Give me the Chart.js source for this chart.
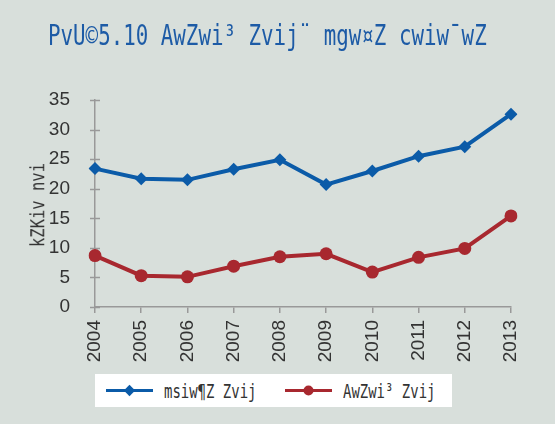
<!DOCTYPE html>
<html>
<head>
<meta charset="utf-8">
<script src="https://cdn.jsdelivr.net/npm/chart.js@4"></script>
<style>
  html, body { margin: 0; padding: 0; background: #d8dfdb; }
  #wrap { position: relative; width: 555px; height: 424px; background: #d8dfdb; overflow: hidden; }
  #chart { position: absolute; left: 0; top: 0; }
  /* the original uses a condensed fixed-width face: squeeze a mono font */
  .cond { font-family: 'DejaVu Sans Mono', 'Liberation Mono', monospace; white-space: nowrap; }
  #title { position: absolute; left: 48px; top: 22px; font-size: 27.5px; line-height: 27.5px;
           color: #1d5ba6; transform: scaleX(0.757); transform-origin: 0 0; }
  #ytitle { position: absolute; left: 37.5px; top: 205px; font-size: 19.5px; line-height: 19.5px;
            color: #333; transform: translate(-50%, -50%) rotate(-90deg) scaleX(0.795); }
  #legend { position: absolute; left: 95px; top: 374px; width: 357px; height: 33px; background: #fff; }
  #legend svg { position: absolute; top: 0; }
  #legend span { position: absolute; top: 7.5px; font-size: 19.5px; line-height: 19.5px;
                 color: #333; transform: scaleX(0.716); transform-origin: 0 0; }
</style>
</head>
<body>
<div id="wrap">
  <canvas id="chart" width="555" height="424"></canvas>
  <div id="title" class="cond">PvU©5.10 AwZwi³ Zvij¨ mgw¤Z cwiw¯wZ</div>
  <div id="ytitle" class="cond">kZKiv nvi</div>
  <div id="legend" class="cond"></div>
</div>
<script>
// বছর
const years = ['2004', '2005', '2006', '2007', '2008', '2009', '2010', '2011', '2012', '2013'];
// msiw¶Z Zvij
const reservedLiquidity = [23.4, 21.7, 21.5, 23.3, 24.9, 20.7, 23.0, 25.5, 27.1, 32.6];
// AwZwi³ Zvij
const excessLiquidity = [8.7, 5.3, 5.1, 6.9, 8.5, 9.0, 5.9, 8.4, 9.9, 15.4];
const seriesNames = ['msiw¶Z Zvij', 'AwZwi³ Zvij'];
const yTicks = [0, 5, 10, 15, 20, 25, 30, 35];

const BLUE = '#0b5ba8';
const RED = '#a8282f';
const AXIS = '#999999';

// y ticks cross the axis line (both sides)
const crossTicks = {
    id: 'crossTicks',
    beforeDatasetsDraw(chart) {
        const ctx = chart.ctx;
        const y = chart.scales.y;
        const x0 = chart.chartArea.left;
        ctx.save();
        ctx.strokeStyle = AXIS;
        ctx.lineWidth = 1.5;
        yTicks.forEach(v => {
            const py = Math.round(y.getPixelForValue(v)) + 0.5;
            ctx.beginPath();
            ctx.moveTo(x0 - 5, py);
            ctx.lineTo(x0 + 5, py);
            ctx.stroke();
        });
        ctx.restore();
    }
};

const chart = new Chart(document.getElementById('chart'), {
    type: 'line',
    data: {
        labels: years,
        datasets: [{
            label: seriesNames[0],
            data: reservedLiquidity,
            borderColor: BLUE,
            backgroundColor: BLUE,
            borderWidth: 4,
            pointStyle: 'rectRot',
            pointRadius: 6.5,
            pointBorderWidth: 0,
            tension: 0
        }, {
            label: seriesNames[1],
            data: excessLiquidity,
            borderColor: RED,
            backgroundColor: RED,
            borderWidth: 4,
            pointStyle: 'circle',
            pointRadius: 6.5,
            pointBorderWidth: 0,
            tension: 0
        }]
    },
    options: {
        responsive: false,
        animation: false,
        layout: { padding: { top: 100, right: 44, bottom: 57, left: 0 } },
        plugins: {
            legend: { display: false },
            tooltip: { enabled: false }
        },
        scales: {
            x: {
                offset: false,
                grid: { display: true, drawOnChartArea: false, drawTicks: true, tickLength: 6, color: AXIS, lineWidth: 1.5 },
                border: { display: true, color: AXIS, width: 1.5 },
                ticks: {
                    color: '#333',
                    font: { family: "'Liberation Sans', Arial, sans-serif", size: 19 },
                    minRotation: 90,
                    maxRotation: 90,
                    padding: 7,
                    autoSkip: false
                },
                afterFit(scale) { scale.height = 60; }
            },
            y: {
                min: 0,
                max: 35,
                afterBuildTicks(scale) { scale.ticks = yTicks.map(v => ({ value: v })); },
                grid: { display: false },
                border: { display: true, color: AXIS, width: 1.5 },
                ticks: {
                    color: '#333',
                    font: { family: "'Liberation Sans', Arial, sans-serif", size: 19 },
                    padding: 17
                },
                afterFit(scale) { scale.width = 95; }
            }
        }
    },
    plugins: [crossTicks]
});

// legend (line + marker, like the original)
const legend = document.getElementById('legend');
const legendItems = [
    { name: seriesNames[0], color: BLUE, marker: 'diamond', lineX: 11, textX: 69 },
    { name: seriesNames[1], color: RED, marker: 'circle', lineX: 190, textX: 248 }
];
legendItems.forEach(it => {
    const m = it.marker === 'diamond'
        ? `<rect x="19.5" y="12.5" width="8" height="8" fill="${it.color}" transform="rotate(45 23.5 16.5)"/>`
        : `<circle cx="23.5" cy="16.5" r="5" fill="${it.color}"/>`;
    legend.insertAdjacentHTML('beforeend',
        `<svg width="48" height="33" style="left:${it.lineX}px">
           <line x1="0" y1="16.5" x2="47" y2="16.5" stroke="${it.color}" stroke-width="3"/>${m}
         </svg><span style="left:${it.textX}px">${it.name}</span>`);
});
</script>
</body>
</html>
